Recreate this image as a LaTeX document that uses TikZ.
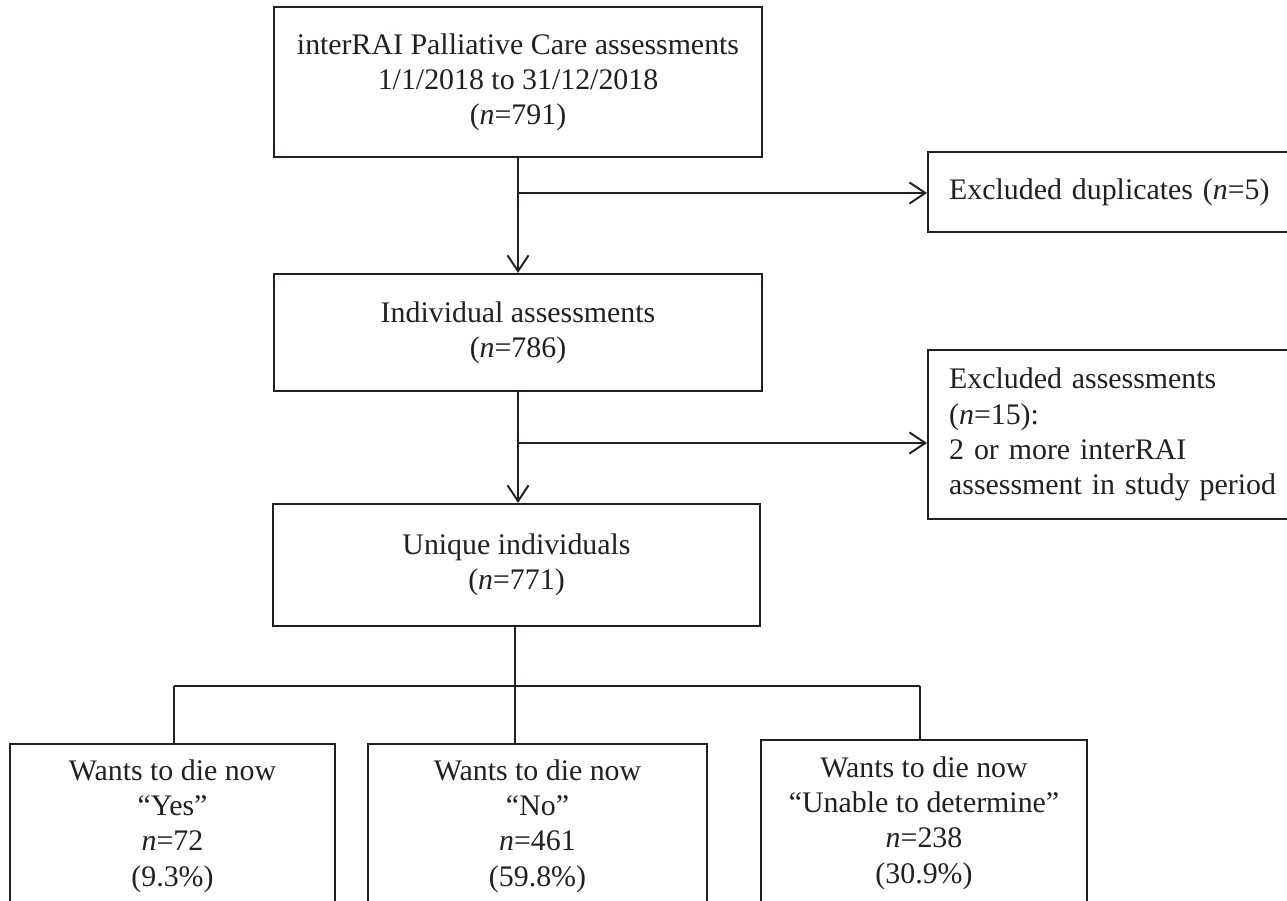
\documentclass[tikz,border=0pt]{standalone}
\usepackage{fontspec}
\setmainfont{Liberation Serif}
\usepackage{xcolor}
\usetikzlibrary{arrows.meta,positioning,calc}
\definecolor{ink}{RGB}{35,31,32}
\tikzset{
  box/.style={draw=ink,line width=1.3pt,rectangle,inner sep=0pt,align=center},
  sidebox/.style={draw=ink,line width=1.3pt,rectangle,anchor=west,
    inner xsep=0.42cm,inner ysep=0pt,text width=7.02cm,align=left},
  link/.style={draw=ink,line width=1.1pt},
  bar/.style={draw=ink,line width=1.5pt},
  every node/.style={font=\fontsize{17}{20}\selectfont,text=ink}
}
\tikzstyle{arrow} = [draw=ink,line width=1.1pt,-{Straight Barb[length=9pt,width=12pt]}]

\begin{document}
\begin{tikzpicture}[x=0.02cm,y=-0.02cm]
  \useasboundingbox (0,0) rectangle (1287,901);
  \clip (0,0) rectangle (1287,901);
  % main column
  \node[box,minimum width=9.76cm,minimum height=3cm] (src) at (518,82)
    {interRAI Palliative Care assessments\\1/1/2018 to 31/12/2018\\(\textit{n}=791)};
  \node[box,minimum width=9.76cm,minimum height=2.34cm] (indiv) at (518,332.5)
    {Individual assessments\\(\textit{n}=786)};
  \node[box,minimum width=9.74cm,minimum height=2.44cm] (uniq) at (516.5,565)
    {Unique individuals\\(\textit{n}=771)};
  % exclusions, cut off at the right edge
  \node[sidebox,minimum height=1.6cm] (dup) at (927,192)
    {Excluded duplicates (\textit{n}=5)};
  \node[sidebox,minimum height=3.38cm] (excl) at (927,434.5)
    {Excluded assessments\\(\textit{n}=15):\\2 or more interRAI\\assessment in study period};
  % outcome boxes, cut off at the bottom edge
  \node[box,anchor=north,minimum width=6.5cm,minimum height=3.28cm] (yes) at (172.5,743)
    {Wants to die now\\“Yes”\\\textit{n}=72\\(9.3\%)};
  \node[box,anchor=north,minimum width=6.78cm,minimum height=3.28cm] (no) at (537.5,743)
    {Wants to die now\\“No”\\\textit{n}=461\\(59.8\%)};
  \node[box,anchor=north,minimum width=6.52cm,minimum height=3.32cm] (undet) at (924,739)
    {Wants to die now\\“Unable to determine”\\\textit{n}=238\\(30.9\%)};

  \draw[arrow] (src) -- (indiv);
  \coordinate (b1) at (518,193);
  \draw[arrow] (b1) -- (b1 -| dup.west);
  \draw[arrow] (indiv.south) -- (indiv.south |- uniq.north);
  \coordinate (b2) at (518,443);
  \draw[arrow] (b2) -- (b2 -| excl.west);

  % split into the three answers
  \coordinate (split) at (515,686);
  \coordinate (jl) at (174,686);
  \coordinate (jr) at (920,686);
  \draw[link] (split |- uniq.south) -- (split);
  \draw[bar] (jl) -- (jr);
  \draw[link] (jl) -- (jl |- yes.north);
  \draw[link] (split) -- (split |- no.north);
  \draw[link] (jr) -- (jr |- undet.north);
\end{tikzpicture}
\end{document}
